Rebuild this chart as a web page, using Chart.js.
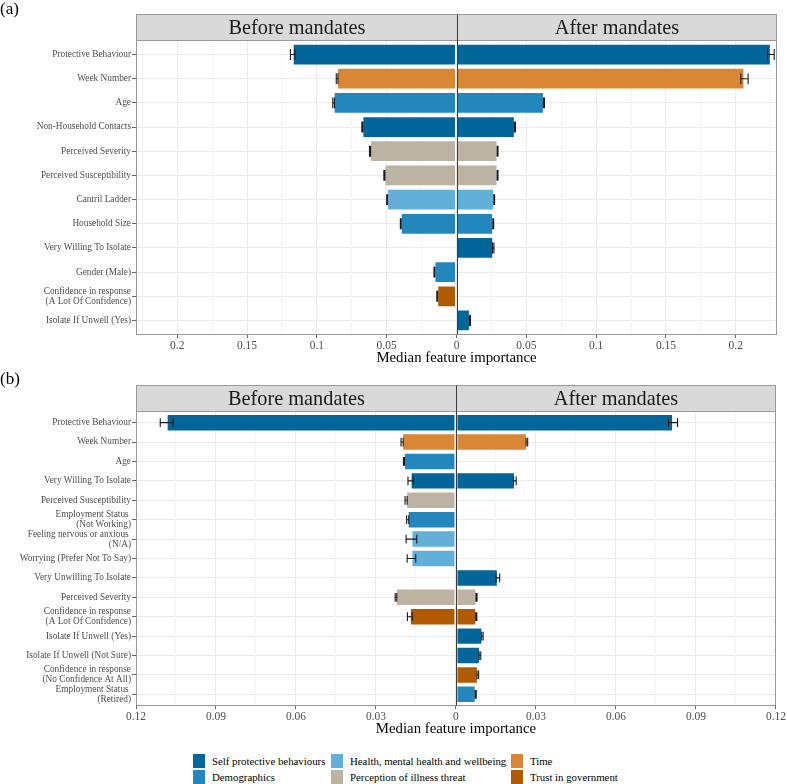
<!DOCTYPE html>
<html><head><meta charset="utf-8">
<script src="https://cdn.jsdelivr.net/npm/chart.js@4.4.1/dist/chart.umd.min.js"></script>
<style>
html,body{margin:0;padding:0;background:#fff;}
body{width:787px;height:784px;position:relative;overflow:hidden;font-family:"Liberation Serif","Times New Roman",serif;}
.wrap{position:absolute;left:0;width:787px;}
.lbl{position:absolute;left:0;font-size:17px;color:#000;line-height:17px;z-index:2;}
.sw{position:absolute;width:12px;height:14px;}
.tx{position:absolute;font-size:10.8px;color:#000;line-height:14px;white-space:nowrap;}
</style></head><body>
<div class="wrap" style="top:0;height:370px"><canvas id="ca"></canvas></div>
<div class="wrap" style="top:370px;height:368px"><canvas id="cb"></canvas></div>
<div class="lbl" style="top:0px">(a)</div>
<div class="lbl" style="top:370px">(b)</div>
<div id="legend"></div>
<script>
// ---------- DATA ----------
const groups = ["Self protective behaviours","Demographics","Health, mental health and wellbeing","Perception of illness threat","Time","Trust in government"];
const groupColors = ["#03669a","#2387be","#62afd9","#bcb3a3","#da8735","#b25a00"];
const panelNames = ["Before mandates","After mandates"];

// Panel (a)
const featuresA = ["Protective Behaviour","Week Number","Age","Non-Household Contacts","Perceived Severity","Perceived Susceptibility","Cantril Ladder","Household Size","Very Willing To Isolate","Gender (Male)",["Confidence in response","(A Lot Of Confidence)"],"Isolate If Unwell (Yes)"];
const groupA = ["Self protective behaviours","Time","Demographics","Self protective behaviours","Perception of illness threat","Perception of illness threat","Health, mental health and wellbeing","Demographics","Self protective behaviours","Demographics","Trust in government","Self protective behaviours"];
const beforeA    = [0.1173,0.0855,0.0880,0.0674,0.0619,0.0516,0.0497,0.0399,null,0.0158,0.0138,null];
const beforeErrA = [0.0016,0.0006,0.0006,0.0004,0.0004,0.0004,0.0003,0.0003,null,0.0003,0.0003,null];
const afterA     = [0.2251,0.2062,0.0626,0.0418,0.0294,0.0294,0.0270,0.0263,0.0263,null,null,0.0096];
const afterErrA  = [0.0024,0.0026,0.0004,0.0004,0.0003,0.0003,0.0003,0.0003,0.0005,null,null,0.0004];
const ticksA = {max:0.2295, step:0.025};

// Panel (b)
const featuresB = ["Protective Behaviour","Week Number","Age","Very Willing To Isolate","Perceived Susceptibility",["Employment Status ","(Not Working)"],["Feeling nervous or anxious ","(N/A)"],"Worrying (Prefer Not To Say)","Very Unwilling To Isolate","Perceived Severity",["Confidence in response","(A Lot Of Confidence)"],"Isolate If Unwell (Yes)","Isolate If Unwell (Not Sure)",["Confidence in response","(No Confidence At All)"],["Employment Status ","(Retired)"]];
const groupB = ["Self protective behaviours","Time","Demographics","Self protective behaviours","Perception of illness threat","Demographics","Health, mental health and wellbeing","Health, mental health and wellbeing","Self protective behaviours","Perception of illness threat","Trust in government","Self protective behaviours","Self protective behaviours","Trust in government","Demographics"];
const beforeB    = [0.1085,0.0202,0.0195,0.0170,0.0187,0.0181,0.0167,0.0167,null,0.0225,0.0173,null,null,null,null];
const beforeErrB = [0.0024,0.0004,0.0002,0.0010,0.0004,0.0004,0.0020,0.0016,null,0.0003,0.0009,null,null,null,null];
const afterB     = [0.0814,0.0266,null,0.0221,null,null,null,null,0.0157,0.0077,0.0076,0.0099,0.0090,0.0082,0.0074];
const afterErrB  = [0.0017,0.0003,null,0.0005,null,null,null,null,0.0007,0.0002,0.0002,0.0003,0.0003,0.0003,0.0002];
const ticksB = {max:0.12, step:0.015};

// ---------- CHART ----------
const SERIF = '"Liberation Serif","Times New Roman",serif';
const colorOf = g => groupColors[groups.indexOf(g)];

function makePanel(canvasId, feats, grp, bef, befErr, aft, aftErr, tk, padTop, axisH, titlePadBottom){
  const n = feats.length;
  const isMajor = v => Math.abs(Math.round(v / tk.step)) % 2 === 0;
  const plugin = {
    id:'facets',
    afterDatasetsDraw(chart){
      const {ctx, scales:{x,y}} = chart;
      const cat = Math.abs(y.getPixelForValue(1) - y.getPixelForValue(0));
      const cap = cat * 0.45;
      ctx.save();
      ctx.strokeStyle = '#1a1a1a'; ctx.lineWidth = 1.1;
      const draw = (v, e, i, s) => {
        if (v == null || e == null) return;
        const py = y.getPixelForValue(i);
        const x1 = x.getPixelForValue(s * (v - e)), x2 = x.getPixelForValue(s * (v + e));
        ctx.beginPath();
        ctx.moveTo(x1, py); ctx.lineTo(x2, py);
        ctx.moveTo(x1, py - cap/2); ctx.lineTo(x1, py + cap/2);
        ctx.moveTo(x2, py - cap/2); ctx.lineTo(x2, py + cap/2);
        ctx.stroke();
      };
      for (let i = 0; i < n; i++){ draw(bef[i], befErr[i], i, -1); draw(aft[i], aftErr[i], i, 1); }
      ctx.restore();
    },
    afterDraw(chart){
      const {ctx, chartArea:a, scales:{x}} = chart;
      const x0 = Math.round(x.getPixelForValue(0)) + 0.5;
      const L = Math.round(a.left) + 0.5, R = Math.round(a.right) - 0.5;
      const T = Math.round(a.top) + 0.5, B = Math.round(a.bottom) - 0.5;
      const sh = 26;
      ctx.save();
      ctx.fillStyle = '#d9d9d9';
      ctx.fillRect(L, T - sh, R - L, sh);
      ctx.strokeStyle = '#999999'; ctx.lineWidth = 1;
      ctx.strokeRect(L, T - sh, R - L, sh);
      ctx.strokeRect(L, T, R - L, B - T);
      ctx.strokeStyle = '#3a3a3a';
      ctx.beginPath(); ctx.moveTo(x0, T - sh); ctx.lineTo(x0, B); ctx.stroke();
      ctx.fillStyle = '#1a1a1a';
      ctx.font = '20.3px ' + SERIF;
      ctx.textAlign = 'center'; ctx.textBaseline = 'middle';
      ctx.fillText(panelNames[0], (L + x0) / 2, T - sh/2 + 1);
      ctx.fillText(panelNames[1], (x0 + R) / 2, T - sh/2 + 1);
      ctx.restore();
    }
  };
  const colors = grp.map(colorOf);
  const mk = (vals, s) => vals.map((v, i) => ({x: v == null ? null : s * v, y: i}));
  return new Chart(document.getElementById(canvasId), {
    type:'bar',
    data:{datasets:[
      {label:panelNames[0], data:mk(bef,-1), backgroundColor:colors, borderColor:'rgba(255,255,255,0.25)', borderWidth:1, borderSkipped:false, grouped:false, barPercentage:0.9, categoryPercentage:1},
      {label:panelNames[1], data:mk(aft,1), backgroundColor:colors, borderColor:'rgba(255,255,255,0.25)', borderWidth:1, borderSkipped:false, grouped:false, barPercentage:0.9, categoryPercentage:1}
    ]},
    options:{
      indexAxis:'y', responsive:true, maintainAspectRatio:false, animation:false,
      layout:{padding:{top:padTop, right:10, left:0, bottom:0}},
      plugins:{legend:{display:false}, tooltip:{enabled:false}},
      scales:{
        y:{type:'linear', reverse:true, min:-0.6, max:n - 0.4, offset:false,
           afterFit(s){ s.width = 136; },
           border:{display:false},
           grid:{offset:false, color:'#ebebeb', lineWidth:1, tickColor:'#666', tickLength:4},
           ticks:{stepSize:1, includeBounds:false, autoSkip:false, padding:1, color:'#4d4d4d',
                  font:{family:SERIF, size:9.3, lineHeight:1.08},
                  callback:v => Number.isInteger(v) && feats[v] !== undefined ? feats[v] : ''}},
        x:{type:'linear', min:-tk.max, max:tk.max, offset:false,
           afterFit(s){ s.height = axisH; },
           border:{display:false},
           grid:{offset:false, color:c => isMajor(c.tick.value) ? '#ebebeb' : '#f4f4f4', lineWidth:1,
                 tickColor:c => isMajor(c.tick.value) ? '#666' : 'rgba(0,0,0,0)', tickLength:3},
           ticks:{stepSize:tk.step, includeBounds:false, autoSkip:false, maxRotation:0, padding:1, color:'#4d4d4d',
                  font:{family:SERIF, size:11.5},
                  callback:v => isMajor(v) ? String(Math.abs(Math.round(v * 1000) / 1000)) : ''},
           title:{display:true, text:'Median feature importance', color:'#000',
                  font:{family:SERIF, size:14.8}, padding:{top:0, bottom:titlePadBottom}}}
      }
    },
    plugins:[plugin]
  });
}

makePanel('ca', featuresA, groupA, beforeA, beforeErrA, afterA, afterErrA, ticksA, 40, 35, 3);
makePanel('cb', featuresB, groupB, beforeB, beforeErrB, afterB, afterErrB, ticksB, 41, 32, 0);

// ---------- LEGEND (3 columns, column-major like the original) ----------
const colX = [193, 331, 511], rowY = [754, 769.5];
const leg = document.getElementById('legend');
groups.forEach((g, i) => {
  const c = Math.floor(i / 2), r = i % 2;
  const sw = document.createElement('div');
  sw.className = 'sw'; sw.style.left = colX[c] + 'px'; sw.style.top = rowY[r] + 'px'; sw.style.background = groupColors[i];
  const tx = document.createElement('div');
  tx.className = 'tx'; tx.style.left = (colX[c] + 19) + 'px'; tx.style.top = rowY[r] + 'px'; tx.textContent = g;
  leg.appendChild(sw); leg.appendChild(tx);
});
</script>
</body></html>
